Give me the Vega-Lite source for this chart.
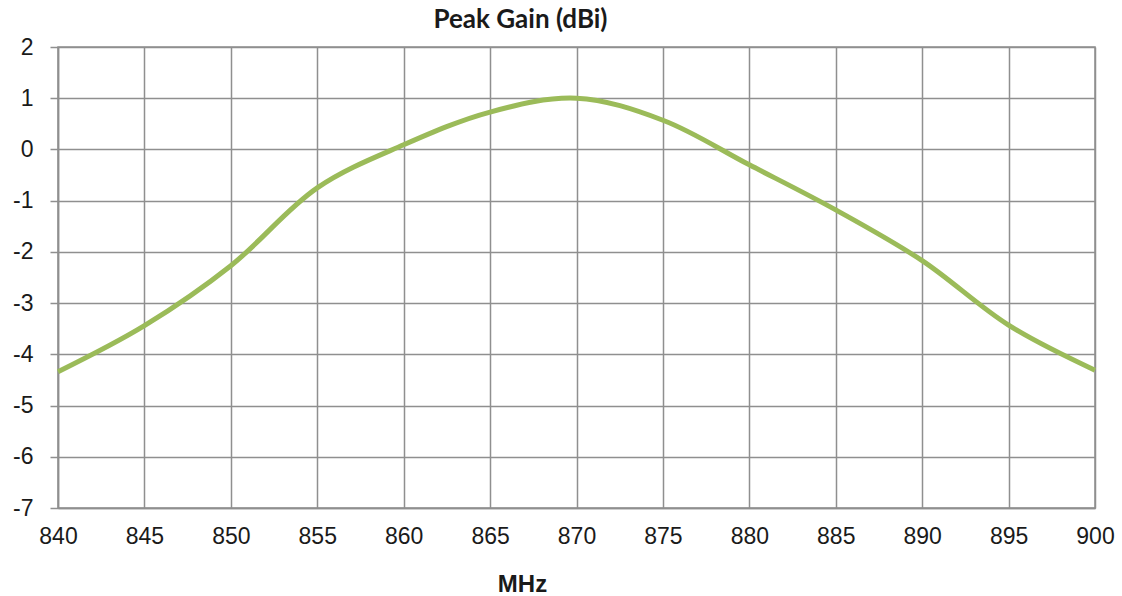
{
  "$schema": "https://vega.github.io/schema/vega-lite/v6.json",
  "autosize": "none",
  "width": 1037,
  "height": 461,
  "padding": {"left": 58, "top": 47, "right": 27, "bottom": 88},
  "background": "white",
  "title": {
    "text": "Peak Gain (dBi)",
    "font": "Lato",
    "fontSize": 26,
    "fontWeight": "bold",
    "color": "#1a1a1a",
    "anchor": "middle",
    "dx": -56,
    "dy": 22,
    "baseline": "alphabetic",
    "offset": 4
  },
  "config": {
    "view": {"stroke": "#8f8f8f", "strokeWidth": 1.5},
    "axis": {
      "gridColor": "#8f8f8f",
      "gridWidth": 1.5,
      "gridOpacity": 1,
      "labelFont": "Liberation Sans",
      "labelFontSize": 23,
      "labelColor": "#1a1a1a",
      "titleFont": "Liberation Sans",
      "titleColor": "#1a1a1a"
    }
  },
  "data": {
    "values": [
      {"f": 840, "g": -4.34},
      {"f": 845, "g": -3.44},
      {"f": 850, "g": -2.27},
      {"f": 855, "g": -0.75},
      {"f": 860, "g": 0.09},
      {"f": 865, "g": 0.73},
      {"f": 870, "g": 1.0},
      {"f": 875, "g": 0.57},
      {"f": 880, "g": -0.3},
      {"f": 885, "g": -1.18},
      {"f": 890, "g": -2.17},
      {"f": 895, "g": -3.43},
      {"f": 900, "g": -4.31}
    ]
  },
  "mark": {"type": "line", "color": "#9BBB59", "strokeWidth": 5, "interpolate": "catmull-rom"},
  "encoding": {
    "x": {
      "field": "f",
      "type": "quantitative",
      "scale": {"domain": [840, 900], "nice": false, "zero": false},
      "axis": {
        "values": [840, 845, 850, 855, 860, 865, 870, 875, 880, 885, 890, 895, 900],
        "title": "MHz",
        "titleFontSize": 24,
        "titleFontWeight": "bold",
        "titleX": 464,
        "titleY": 83,
        "titleBaseline": "alphabetic",
        "ticks": false,
        "tickSize": 0,
        "domain": true,
        "domainColor": "#8f8f8f",
        "domainWidth": 1.5,
        "labelPadding": 17,
        "labelFlush": false,
        "labelOverlap": false
      }
    },
    "y": {
      "field": "g",
      "type": "quantitative",
      "scale": {"domain": [-7, 2], "nice": false, "zero": false},
      "axis": {
        "values": [-7, -6, -5, -4, -3, -2, -1, 0, 1, 2],
        "labelExpr": "'' + datum.value",
        "title": null,
        "ticks": true,
        "tickSize": 8,
        "tickColor": "#8f8f8f",
        "tickWidth": 1.5,
        "domain": true,
        "domainColor": "#8f8f8f",
        "domainWidth": 1.5,
        "labelPadding": 17,
        "labelFlush": false,
        "labelOverlap": false
      }
    }
  }
}
